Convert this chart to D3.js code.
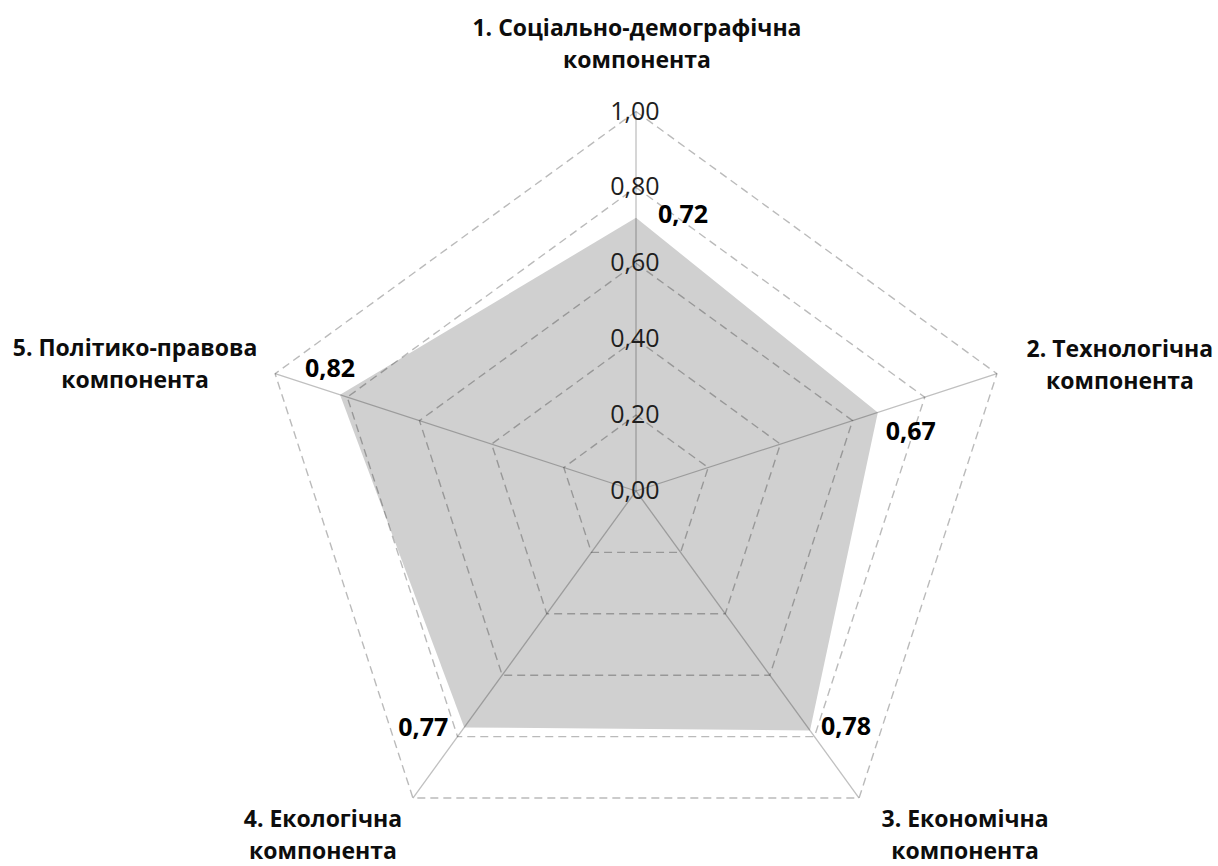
<!DOCTYPE html>
<html>
<head>
<meta charset="utf-8">
<script src="https://cdn.jsdelivr.net/npm/d3@7"></script>
<style>
  html, body { margin: 0; padding: 0; background: #ffffff; }
  svg { display: block; }
</style>
</head>
<body>
<svg id="chart" width="1218" height="866"></svg>
<script>
// Component names (each split into two lines)
const categories = [
  ["1. Соціально-демографічна", "компонента"],
  ["2. Технологічна", "компонента"],
  ["3. Економічна", "компонента"],
  ["4. Екологічна", "компонента"],
  ["5. Політико-правова", "компонента"]
];
// Index values per component
const values = [0.72, 0.67, 0.78, 0.77, 0.82];
// Radial tick levels and their labels
const tickValues = [0, 0.2, 0.4, 0.6, 0.8, 1.0];
const tickLabels = ["0,00", "0,20", "0,40", "0,60", "0,80", "1,00"];

// Layout
const W = 1218, H = 866;
const cx = 636, cy = 491, R = 379.5;
const n = categories.length;

const svg = d3.select("#chart");
const r = d3.scaleLinear().domain([0, 1]).range([0, R]);
const angle = d3.scaleLinear().domain([0, n]).range([0, 2 * Math.PI]);
const fmt = v => d3.format(".2f")(v).replace(".", ",");

const pt = (i, v) => {
  const a = angle(i);
  return [cx + r(v) * Math.sin(a), cy - r(v) * Math.cos(a)];
};

const g = svg.append("g");

// Data area
const radial = d3.lineRadial()
  .angle((d, i) => angle(i))
  .radius(d => r(d))
  .curve(d3.curveLinearClosed);

g.append("path")
  .attr("transform", `translate(${cx},${cy})`)
  .attr("d", radial(values))
  .attr("fill", "#d0d0d0")
  .attr("stroke", "none");

// Dashed grid rings
const ringLine = d3.lineRadial()
  .angle((d, i) => angle(i))
  .radius(d => d)
  .curve(d3.curveLinearClosed);

g.selectAll(".ring")
  .data(tickValues.filter(t => t > 0))
  .join("path")
  .attr("class", "ring")
  .attr("transform", `translate(${cx},${cy})`)
  .attr("d", t => ringLine(d3.range(n).map(() => r(t))))
  .attr("fill", "none")
  .attr("stroke", "rgba(0,0,0,0.27)")
  .attr("stroke-width", 1.4)
  .attr("stroke-dasharray", "8,5");

// Spokes
g.selectAll(".spoke")
  .data(d3.range(n))
  .join("line")
  .attr("class", "spoke")
  .attr("x1", cx).attr("y1", cy)
  .attr("x2", i => pt(i, 1)[0])
  .attr("y2", i => pt(i, 1)[1])
  .attr("stroke", "rgba(0,0,0,0.25)")
  .attr("stroke-width", 1.3);

// Radial tick labels along the first spoke
g.selectAll(".tick")
  .data(tickValues)
  .join("text")
  .attr("class", "tick")
  .attr("x", cx - 1)
  .attr("y", t => cy - r(t) + 8)
  .attr("text-anchor", "middle")
  .attr("font-family", "'Open Sans', sans-serif")
  .attr("font-size", 25)
  .attr("fill", "#1e1e1e")
  .text((t, i) => tickLabels[i]);

// Value labels next to each data point
const valueOffsets = [[47, 5], [33, 28], [36, 4.5], [-41, 9], [-10, -18]];
g.selectAll(".val")
  .data(values)
  .join("text")
  .attr("class", "val")
  .attr("x", (v, i) => pt(i, v)[0] + valueOffsets[i][0])
  .attr("y", (v, i) => pt(i, v)[1] + valueOffsets[i][1])
  .attr("text-anchor", "middle")
  .attr("font-family", "'Open Sans', sans-serif")
  .attr("font-weight", "bold")
  .attr("font-size", 25)
  .attr("fill", "#000")
  .text(v => fmt(v));

// Category labels around the outer ring
const catOffsets = [[1, -76], [123, -17], [106, 29], [-90, 29], [-140, -18]];
const lineGap = 32;
const cats = g.selectAll(".cat")
  .data(categories)
  .join("text")
  .attr("class", "cat")
  .attr("text-anchor", "middle")
  .attr("font-family", "'Open Sans', sans-serif")
  .attr("font-weight", "bold")
  .attr("font-size", 23)
  .attr("fill", "#0d0d0d");

cats.each(function (lines, i) {
  const [vx, vy] = pt(i, 1);
  const x = vx + catOffsets[i][0];
  const y = vy + catOffsets[i][1];
  d3.select(this).selectAll("tspan")
    .data(lines)
    .join("tspan")
    .attr("x", x)
    .attr("y", (d, k) => y + k * lineGap)
    .text(d => d);
});
</script>
</body>
</html>
